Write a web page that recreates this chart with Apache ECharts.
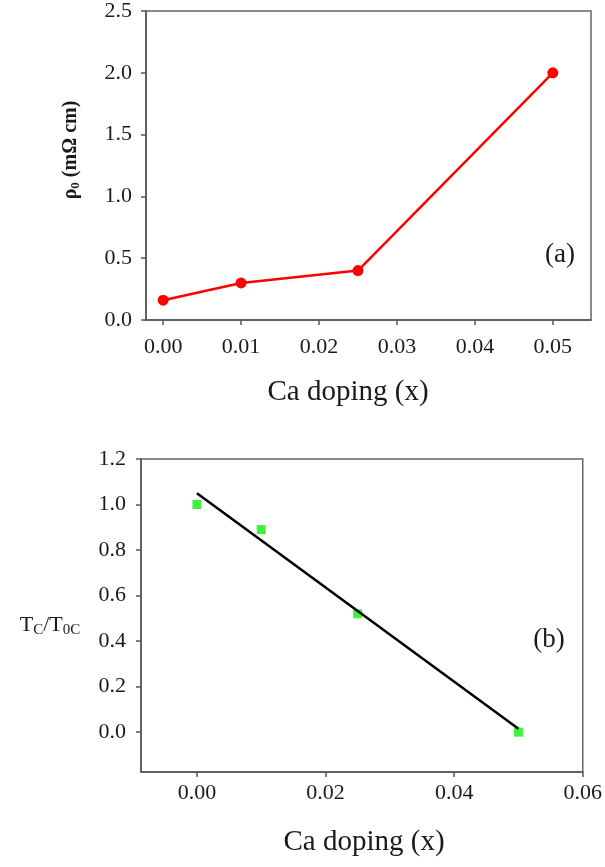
<!DOCTYPE html>
<html><head><meta charset="utf-8">
<script src="https://cdn.jsdelivr.net/npm/echarts@6/dist/echarts.min.js"></script>
<style>html,body{margin:0;padding:0;background:#fff}#c{width:605px;height:867px}</style>
</head><body><div id="c"></div>
<script>
// Panel (a)
const dopingA = [0, 0.01, 0.025, 0.05];
const rho0 = [0.16, 0.30, 0.40, 2.0];
const xTicksA = [0, 0.01, 0.02, 0.03, 0.04, 0.05];
const yTicksA = [0, 0.5, 1.0, 1.5, 2.0, 2.5];
// Panel (b)
const dopingB = [0, 0.01, 0.025, 0.05];
const tcRatio = [1.0, 0.89, 0.52, 0.0];
const fitX = [0, 0.05];
const fitY = [1.05, 0.015];
const xTicksB = [0, 0.02, 0.04, 0.06];
const yTicksB = [0, 0.2, 0.4, 0.6, 0.8, 1.0, 1.2];

const FONT = "'Liberation Serif', 'DejaVu Serif', serif";
const axisColor = '#555';
const textColor = '#1a1a1a';
const zip = (a, b) => a.map((v, i) => [v, b[i]]);

const chart = echarts.init(document.getElementById('c'), null, {renderer: 'canvas'});

function xAxis(gridIndex, min, max, ticks, margin) {
  return {
    type: 'value', gridIndex, min, max,
    axisLine: {show: true, onZero: false, lineStyle: {color: axisColor, width: 1.5}},
    axisTick: {show: true, inside: false, length: 5, customValues: ticks, lineStyle: {color: axisColor, width: 1.5}},
    axisLabel: {customValues: ticks, margin, color: textColor, fontFamily: FONT, fontSize: 22,
      formatter: v => v.toFixed(2)},
    splitLine: {show: false}
  };
}
function yAxis(gridIndex, min, max, ticks, margin) {
  return {
    type: 'value', gridIndex, min, max,
    axisLine: {show: true, onZero: false, lineStyle: {color: axisColor, width: 1.5}},
    axisTick: {show: true, inside: false, length: 5, customValues: ticks, lineStyle: {color: axisColor, width: 1.5}},
    axisLabel: {customValues: ticks, margin, color: textColor, fontFamily: FONT, fontSize: 22,
      formatter: v => v.toFixed(1)},
    splitLine: {show: false}
  };
}

chart.setOption({
  animation: false,
  backgroundColor: '#fff',
  grid: [
    {left: 146, right: 14, top: 8.5, height: 311.5, show: true, borderColor: '#666', borderWidth: 1.5, backgroundColor: 'transparent'},
    {left: 141, right: 22, top: 459, height: 313, show: true, borderColor: '#666', borderWidth: 1.5, backgroundColor: 'transparent'}
  ],
  xAxis: [
    xAxis(0, -0.0022, 0.0549, xTicksA, 16),
    xAxis(1, -0.0087, 0.06, xTicksB, 10)
  ],
  yAxis: [
    yAxis(0, 0, 2.5, yTicksA, 14),
    yAxis(1, -0.175, 1.2, yTicksB, 15)
  ],
  series: [
    {
      type: 'line', xAxisIndex: 0, yAxisIndex: 0,
      data: zip(dopingA, rho0),
      symbol: 'circle', symbolSize: 11,
      lineStyle: {color: '#ff0000', width: 2.5},
      itemStyle: {color: '#ff0000'}
    },
    {
      type: 'line', xAxisIndex: 1, yAxisIndex: 1,
      data: zip(fitX, fitY),
      symbol: 'none',
      lineStyle: {color: '#000', width: 2.5}
    },
    {
      type: 'scatter', xAxisIndex: 1, yAxisIndex: 1,
      data: zip(dopingB, tcRatio),
      symbol: 'rect', symbolSize: 9,
      itemStyle: {color: '#11ee11'}
    }
  ],
  graphic: [
    {type: 'text', x: 348, y: 392, style: {text: 'Ca doping (x)', font: '29px ' + FONT, fill: textColor, align: 'center', verticalAlign: 'middle'}},
    {type: 'text', x: 364, y: 842, style: {text: 'Ca doping (x)', font: '29px ' + FONT, fill: textColor, align: 'center', verticalAlign: 'middle'}},
    {type: 'text', x: 71, y: 150, rotation: Math.PI / 2,
      style: {text: 'ρ{s|0} (mΩ cm)', fontFamily: FONT, fontSize: 20, fontWeight: 'bold', fill: textColor, align: 'center', verticalAlign: 'middle',
        rich: {s: {fontFamily: FONT, fontSize: 13, fontWeight: 'bold', verticalAlign: 'bottom', padding: [10, 0, 0, 0]}}}},
    {type: 'text', x: 50, y: 625,
      style: {text: 'T{s|C}/T{s|0C}', fontFamily: FONT, fontSize: 22, fill: textColor, align: 'center', verticalAlign: 'middle',
        rich: {s: {fontFamily: FONT, fontSize: 15, padding: [10, 0, 0, 0]}}}},
    {type: 'text', x: 560, y: 255, style: {text: '(a)', font: '27px ' + FONT, fill: textColor, align: 'center', verticalAlign: 'middle'}},
    {type: 'text', x: 549, y: 640, style: {text: '(b)', font: '27px ' + FONT, fill: textColor, align: 'center', verticalAlign: 'middle'}}
  ]
});
</script></body></html>
